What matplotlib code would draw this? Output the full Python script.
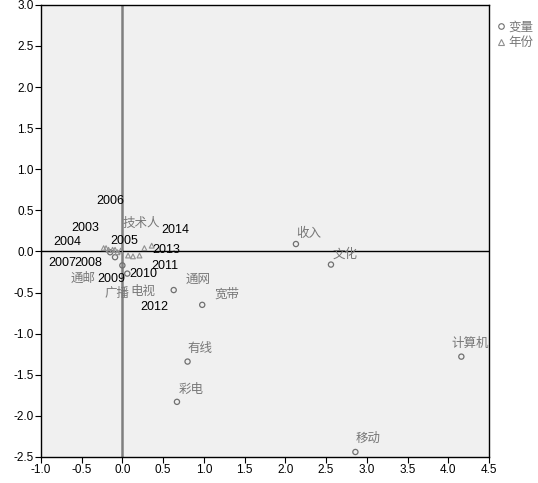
import numpy as np
import matplotlib
matplotlib.use('Agg')
import matplotlib.pyplot as plt
from matplotlib.lines import Line2D

plt.rcParams['font.family'] = ['Liberation Sans', 'Noto Sans CJK SC', 'DejaVu Sans']

# variables (circles)
varNames = ['收入', '文化', '计算机', '移动', '有线', '彩电', '宽带', '通网',
            '电视', '广播', '通邮', '技术人']
varX = [2.13, 2.56, 4.16, 2.86, 0.80, 0.67, 0.98, 0.63, 0.06, 0.00, -0.09, -0.15]
varY = [0.09, -0.16, -1.28, -2.44, -1.34, -1.83, -0.65, -0.47, -0.27, -0.17, -0.07, -0.01]

# years (triangles)
years = ['2003', '2004', '2005', '2006', '2007', '2008', '2009', '2010',
         '2011', '2012', '2013', '2014']
yearX = [-0.20, -0.23, -0.02, -0.12, -0.17, -0.09, -0.06, 0.07, 0.21, 0.13, 0.27, 0.36]
yearY = [0.04, 0.04, 0.01, 0.02, 0.02, 0.02, -0.01, -0.05, -0.05, -0.06, 0.04, 0.07]

# label offsets in pixels (dx, dy), label left-bottom relative to point
varOffsets = [(0, 4), (2, 4), (-10, 7), (0, 7), (0, 7), (2, 6), (12, 4), (12, 4),
              (3, -24), (-18, -35), (-44, -28), (12, 22)]
yearOffsets = [(-35, 14), (-50, 0), (-10, 4), (-16, 43), (-60, -19), (-41, -19),
               (-20, -33), (1, -24), (12, -16), (7, -57), (8, -8), (10, 10)]

fig = plt.figure(figsize=(5.38, 4.83), dpi=100)
ax = fig.add_axes([0.076, 0.054, 0.833, 0.936])
ax.set_facecolor('#f0f0f0')

ax.axvline(0, color='#7f7f7f', lw=1.8, zorder=1)
ax.axhline(0, color='black', lw=1.0, zorder=1)

ax.scatter(varX, varY, marker='o', s=14, facecolors='none', edgecolors='#707070',
           linewidths=0.9, zorder=3)
ax.scatter(yearX, yearY, marker='^', s=12, facecolors='none', edgecolors='#909090',
           linewidths=0.8, zorder=3)

for name, x, y, off in zip(varNames, varX, varY, varOffsets):
    ax.annotate(name, (x, y), xytext=off, textcoords='offset pixels',
                fontsize=9, color='#777777', ha='left', va='bottom',
                family=['Noto Sans CJK SC', 'DejaVu Sans'])
for name, x, y, off in zip(years, yearX, yearY, yearOffsets):
    ax.annotate(name, (x, y), xytext=off, textcoords='offset pixels',
                fontsize=9, color='black', ha='left', va='bottom')

ax.set_xlim(-1.0, 4.5)
ax.set_ylim(-2.5, 3.0)
ax.set_xticks(np.arange(-1.0, 4.51, 0.5))
ax.set_yticks(np.arange(-2.5, 3.01, 0.5))
ax.xaxis.set_major_formatter(matplotlib.ticker.FormatStrFormatter('%.1f'))
ax.yaxis.set_major_formatter(matplotlib.ticker.FormatStrFormatter('%.1f'))
ax.tick_params(direction='out', length=4, width=0.8, labelsize=8.5, pad=1)
for s in ax.spines.values():
    s.set_linewidth(1.0)

handles = [Line2D([], [], marker='o', ls='none', mfc='none', mec='#707070', ms=4, mew=0.8),
           Line2D([], [], marker='^', ls='none', mfc='none', mec='#909090', ms=4, mew=0.8)]
leg = fig.legend(handles, ['变量', '年份'], loc='upper left', bbox_to_anchor=(0.905, 0.975),
                 frameon=False, handlelength=0.8, handletextpad=0.2,
                 labelspacing=0.2, borderpad=0.2,
                 prop={'family': ['Noto Sans CJK SC', 'DejaVu Sans'], 'size': 9})
for t in leg.get_texts():
    t.set_color('#777777')

fig.savefig('out.png', dpi=100)
